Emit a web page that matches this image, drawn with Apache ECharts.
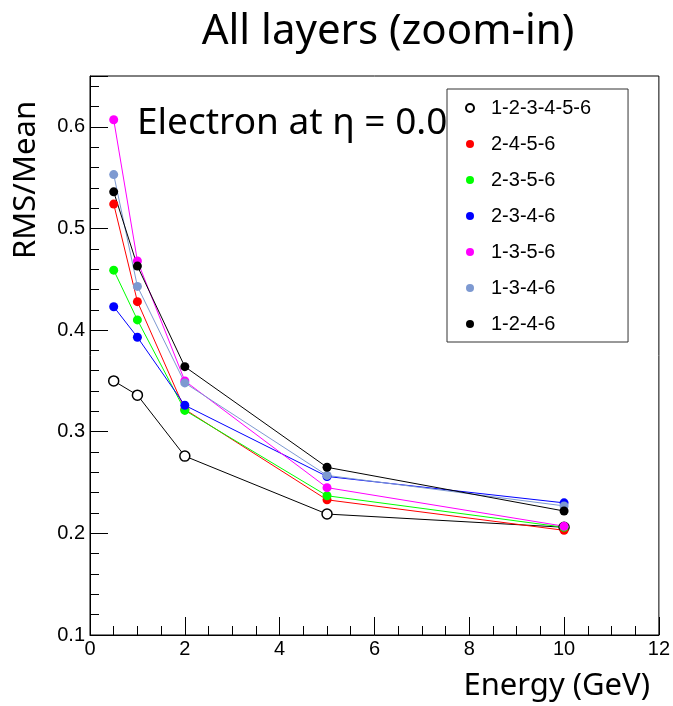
<!DOCTYPE html>
<html>
<head>
<meta charset="utf-8">
<script src="https://cdn.jsdelivr.net/npm/echarts@6/dist/echarts.min.js"></script>
<style>
  html, body { margin: 0; padding: 0; background: #fff; }
  #main { width: 673px; height: 706px; }
</style>
</head>
<body>
<div id="main"></div>
<script>
// energies (GeV)
var energy = [0.5, 1, 2, 5, 10];

var names = ['1-2-3-4-5-6', '2-4-5-6', '2-3-5-6', '2-3-4-6', '1-3-5-6', '1-3-4-6', '1-2-4-6'];
var colors = ['#000000', '#ff0000', '#00ff00', '#0000ff', '#ff00ff', '#7d99d1', '#000000'];

var all6   = [0.350, 0.336, 0.276, 0.219, 0.206];
var l2456  = [0.524, 0.428, 0.322, 0.233, 0.203];
var l2356  = [0.459, 0.410, 0.321, 0.237, 0.206];
var l2346  = [0.423, 0.393, 0.326, 0.256, 0.230];
var l1356  = [0.607, 0.468, 0.350, 0.245, 0.207];
var l1346  = [0.553, 0.443, 0.348, 0.257, 0.227];
var l1246  = [0.536, 0.463, 0.364, 0.265, 0.222];

var values = [all6, l2456, l2356, l2346, l1356, l1346, l1246];

var tickFont = 'Liberation Sans';
var textFont = '"Noto Sans"';

function pairs(ys) {
  var out = [];
  for (var i = 0; i < energy.length; i++) out.push([energy[i], ys[i]]);
  return out;
}

var series = [];
for (var k = 0; k < names.length; k++) {
  var open = (k === 0);
  series.push({
    name: names[k],
    type: 'line',
    data: pairs(values[k]),
    symbol: 'circle',
    symbolSize: open ? 10 : 9,
    lineStyle: { color: colors[k], width: 1 },
    itemStyle: open
      ? { color: '#ffffff', borderColor: '#000', borderWidth: 1.5 }
      : { color: colors[k], borderWidth: 0 },
    emphasis: { disabled: true },
    animation: false
  });
}

var chart = echarts.init(document.getElementById('main'));
chart.setOption({
  backgroundColor: '#fff',
  animation: false,
  grid: {
    left: 90, right: 14, top: 76, bottom: 71,
    show: true, borderColor: '#000', borderWidth: 1, backgroundColor: 'transparent'
  },
  xAxis: {
    type: 'value', min: 0, max: 12, interval: 2,
    axisLine: { lineStyle: { color: '#000' } },
    axisTick: { inside: true, length: 18, lineStyle: { color: '#000' } },
    minorTick: { show: true, splitNumber: 4, length: 9, lineStyle: { color: '#000' } },
    splitLine: { show: false },
    axisLabel: { fontFamily: tickFont, fontSize: 20, color: '#000', margin: 4 }
  },
  yAxis: {
    type: 'value', min: 0.1, max: 0.65, interval: 0.1,
    axisLine: { show: true, lineStyle: { color: '#000' } },
    axisTick: { inside: true, length: 18, lineStyle: { color: '#000' } },
    minorTick: { show: true, splitNumber: 5, length: 9, lineStyle: { color: '#000' } },
    splitLine: { show: false },
    axisLabel: {
      fontFamily: tickFont, fontSize: 20, color: '#000', margin: 5,
      showMaxLabel: false,
      formatter: function (v) { return (Math.round(v * 10) / 10).toString(); }
    }
  },
  legend: {
    orient: 'vertical',
    left: 447, top: 89,
    padding: [9, 37, 8, 18],
    borderColor: '#333', borderWidth: 1,
    backgroundColor: 'transparent',
    itemWidth: 8, itemHeight: 8, itemGap: 16,
    icon: 'circle',
    textStyle: { fontFamily: tickFont, fontSize: 20, color: '#000', lineHeight: 20, padding: [0, 0, 0, 12] },
    data: names
  },
  series: series,
  graphic: [
    {
      type: 'text', x: 388, y: 32,
      style: { text: 'All layers (zoom-in)', font: '42px ' + textFont, fill: '#000', textAlign: 'center', textVerticalAlign: 'middle' }
    },
    {
      type: 'text', x: 137, y: 123,
      style: { text: 'Electron at η = 0.0', font: '37px ' + textFont, fill: '#000', textAlign: 'left', textVerticalAlign: 'middle' }
    },
    {
      type: 'text', x: 26, y: 180, rotation: Math.PI / 2,
      style: { text: 'RMS/Mean', font: '31px ' + textFont, fill: '#000', textAlign: 'center', textVerticalAlign: 'middle' }
    },
    {
      type: 'text', x: 650, y: 686,
      style: { text: 'Energy (GeV)', font: '31px ' + textFont, fill: '#000', textAlign: 'right', textVerticalAlign: 'middle' }
    }
  ]
});
</script>
</body>
</html>
